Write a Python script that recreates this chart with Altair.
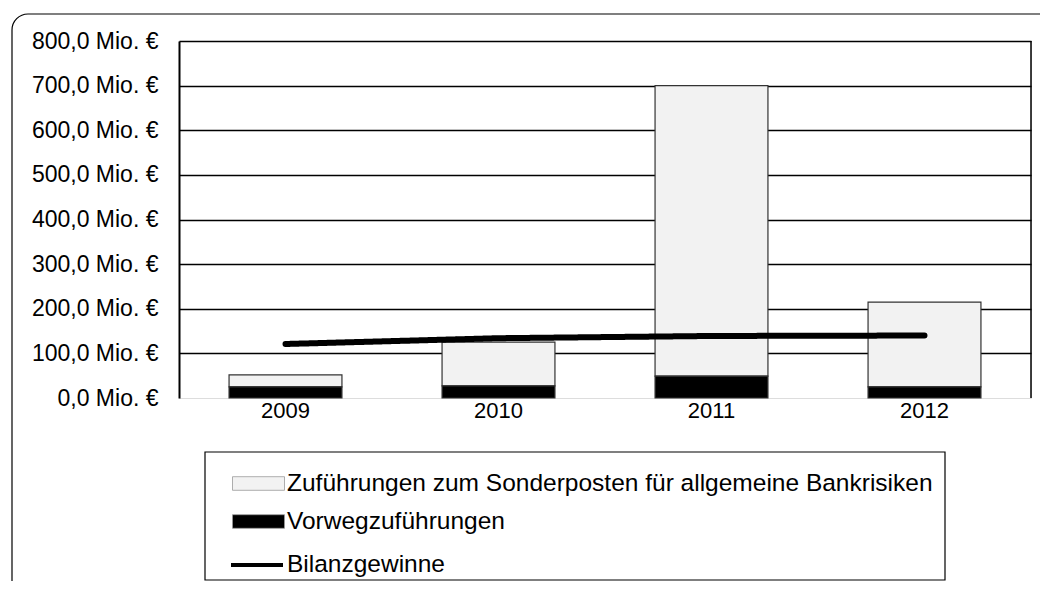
import altair as alt
import pandas as pd

years = ["2009", "2010", "2011", "2012"]
sonder = [27, 98, 651, 190]
vorweg = [25, 27, 49, 25]
bilanz = [121, 134, 139, 140]

S_NAME = "Zuführungen zum Sonderposten für allgemeine Bankrisiken"
V_NAME = "Vorwegzuführungen"
B_NAME = "Bilanzgewinne"
bar_names = [S_NAME, V_NAME]
bar_colors = ["#f2f2f2", "#000000"]

FONT = "Liberation Sans"
W, H = 852, 357

bars_df = pd.DataFrame(
    [{"year": y, "series": S_NAME, "value": s, "ord": 1} for y, s in zip(years, sonder)]
    + [{"year": y, "series": V_NAME, "value": v, "ord": 0} for y, v in zip(years, vorweg)]
)
line_df = pd.DataFrame({"year": years, "series": B_NAME, "value": bilanz})

legend_common = dict(
    orient="none",
    title=None,
    padding=0,
    symbolSize=1600,
    rowPadding=6,
    labelOffset=8,
    labelFont=FONT,
    labelFontSize=24.5,
    labelColor="black",
    labelLimit=900,
)

color = alt.Color(
    "series:N",
    scale=alt.Scale(domain=bar_names, range=bar_colors),
    legend=alt.Legend(
        legendX=59,
        legendY=422,
        symbolType="M-1.3,-0.34H1.3V0.34H-1.3Z",
        symbolStrokeColor="#999999",
        symbolStrokeWidth=0.8,
        symbolOpacity=1,
        **legend_common,
    ),
)

x_enc = alt.X(
    "year:N",
    sort=years,
    scale=alt.Scale(paddingInner=0.47, paddingOuter=0.235),
    axis=alt.Axis(
        title=None, labelAngle=0, ticks=False, domain=False, grid=False,
        labelPadding=2, labelFont=FONT, labelFontSize=22, labelColor="black",
    ),
)

y_scale = alt.Scale(domain=[0, 800], nice=False)

bars = alt.Chart(bars_df).mark_bar(stroke="#333333", strokeWidth=1.2).encode(
    x=x_enc,
    y=alt.Y(
        "value:Q",
        stack="zero",
        scale=y_scale,
        axis=alt.Axis(
            title=None,
            values=[0, 100, 200, 300, 400, 500, 600, 700, 800],
            labelExpr="replace(format(datum.value, '.1f'), '.', ',') + ' Mio. €'",
            ticks=False,
            labelPadding=21,
            labelFont=FONT,
            labelFontSize=23,
            labelColor="black",
            domain=True,
            domainColor="black",
            domainWidth=2,
            grid=True,
            gridColor="black",
            gridWidth=1.5,
            gridOpacity={"expr": "datum.value == 0 ? 0 : 1"},
        ),
    ),
    color=color,
    order=alt.Order("ord:Q"),
)

line = alt.Chart(line_df).mark_line(strokeWidth=6, strokeCap="round", color="black").encode(
    x=alt.X("year:N", sort=years),
    y=alt.Y("value:Q", scale=y_scale),
    strokeDash=alt.StrokeDash(
        "series:N",
        scale=alt.Scale(domain=[B_NAME], range=[[1, 0]]),
        legend=alt.Legend(
            legendX=56,
            legendY=502,
            symbolType="M-1.3,0H1.3",
            symbolStrokeColor="black",
            symbolStrokeWidth=4,
            symbolOpacity=1,
            **legend_common,
        ),
    ),
)

deco_df = pd.DataFrame({"a": [0]})
right_border = alt.Chart(deco_df).mark_rule(color="black", strokeWidth=1.5).encode(
    x=alt.value(W), y=alt.value(0), y2=alt.value(H)
)
legend_box = alt.Chart(deco_df).mark_rect(fill="transparent", stroke="black", strokeWidth=1.2).encode(
    x=alt.value(26), x2=alt.value(766), y=alt.value(411), y2=alt.value(539)
)
frame = alt.Chart(deco_df).mark_rect(
    fill="transparent", stroke="black", strokeWidth=1.2, cornerRadius=16
).encode(
    x=alt.value(-167), x2=alt.value(900), y=alt.value(-27), y2=alt.value(600)
)

chart = alt.layer(frame, bars, line, right_border, legend_box).properties(
    width=W,
    height=H,
    autosize=alt.AutoSizeParams(type="none"),
    padding={"left": 171, "top": 33, "right": 9, "bottom": 183},
).configure_view(stroke=None).configure(background="white")

chart.save("out.html", embed_options={"renderer": "svg", "actions": False})
